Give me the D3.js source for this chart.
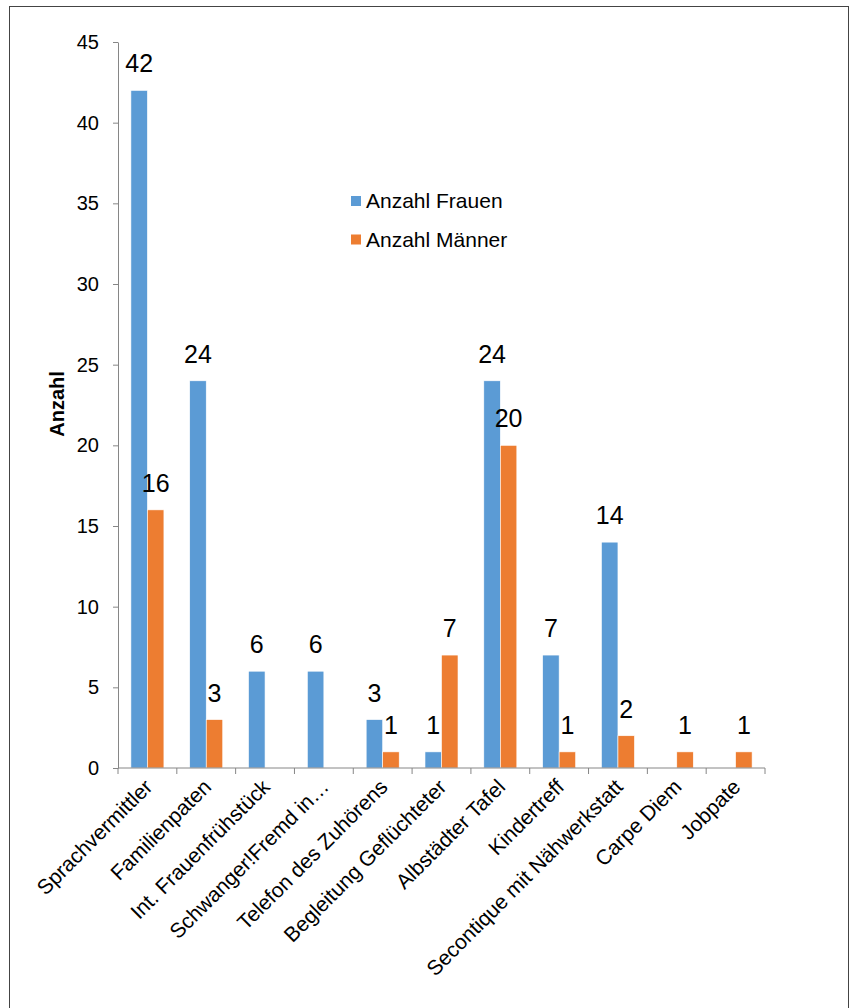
<!DOCTYPE html>
<html>
<head>
<meta charset="utf-8">
<script src="https://cdn.jsdelivr.net/npm/d3@7"></script>
<style>
  body { margin: 0; background: #fff; }
  text { font-family: "Liberation Sans", Arial, sans-serif; fill: #000; }
</style>
</head>
<body>
<div id="chart"></div>
<script>
var categories = ['Sprachvermittler', 'Familienpaten', 'Int. Frauenfrühstück', 'Schwanger!Fremd in…',
  'Telefon des Zuhörens', 'Begleitung Geflüchteter', 'Albstädter Tafel', 'Kindertreff',
  'Secontique mit Nähwerkstatt', 'Carpe Diem', 'Jobpate'];
var frauen = [42, 24, 6, 6, 3, 1, 24, 7, 14, 0, 0];
var maenner = [16, 3, 0, 0, 1, 7, 20, 1, 2, 1, 1];
var seriesNames = ['Anzahl Frauen', 'Anzahl Männer'];
var colors = ['#5B9BD5', '#ED7D31'];
var yTicks = [0, 5, 10, 15, 20, 25, 30, 35, 40, 45];

var width = 850, height = 1008;
var plot = { left: 118, right: 765, top: 42, bottom: 768 };

var svg = d3.select('#chart')
  .append('svg')
    .attr('width', width)
    .attr('height', height);

// frame
svg.append('rect')
  .attr('x', 9.5).attr('y', 6.5)
  .attr('width', 839).attr('height', 1020)
  .attr('fill', 'none')
  .attr('stroke', '#444')
  .attr('stroke-width', 1);

var x0 = d3.scaleBand()
  .domain(categories)
  .range([plot.left, plot.right]);

var x1 = d3.scaleBand()
  .domain(seriesNames)
  .range([12.9, x0.bandwidth() - 12.9]);

var y = d3.scaleLinear()
  .domain([0, 45])
  .range([plot.bottom, plot.top]);

var rows = categories.map(function(c, i) {
  return { cat: c, values: [
    { s: seriesNames[0], v: frauen[i], c: colors[0] },
    { s: seriesNames[1], v: maenner[i], c: colors[1] }
  ]};
});

// bars
var group = svg.selectAll('g.cat')
  .data(rows)
  .enter().append('g')
    .attr('class', 'cat')
    .attr('transform', (d) => 'translate(' + x0(d.cat) + ',0)');

group.selectAll('rect')
  .data((d) => d.values.filter((e) => e.v > 0))
  .enter().append('rect')
    .attr('x', (d) => x1(d.s))
    .attr('y', (d) => y(d.v))
    .attr('width', x1.bandwidth())
    .attr('height', (d) => y(0) - y(d.v))
    .attr('fill', (d) => d.c)
    .attr('stroke', '#fff')
    .attr('stroke-width', 0.6);

group.selectAll('text.val')
  .data((d) => d.values.filter((e) => e.v > 0))
  .enter().append('text')
    .attr('class', 'val')
    .attr('x', (d) => x1(d.s) + x1.bandwidth() / 2)
    .attr('y', (d) => y(d.v) - 18)
    .attr('text-anchor', 'middle')
    .attr('font-size', '25px')
    .text((d) => d.v);

// y axis
var yAxis = svg.append('g')
  .attr('transform', 'translate(' + plot.left + ',0)')
  .call(d3.axisLeft(y).tickValues(yTicks).tickSize(5).tickPadding(14).tickSizeOuter(0));
yAxis.select('.domain').attr('stroke', '#868686');
yAxis.selectAll('.tick line').attr('stroke', '#868686');
yAxis.selectAll('.tick text')
  .attr('font-size', '20px')
  .attr('font-family', '"Liberation Sans", Arial, sans-serif')
  .attr('fill', '#000');

// x axis
var xAxis = svg.append('g')
  .attr('transform', 'translate(0,' + plot.bottom + ')');
xAxis.append('line')
  .attr('x1', plot.left).attr('x2', plot.right)
  .attr('stroke', '#868686');
xAxis.selectAll('line.tick')
  .data(categories.concat(['end']))
  .enter().append('line')
    .attr('class', 'tick')
    .attr('x1', (d, i) => i < categories.length ? x0(d) : plot.right)
    .attr('x2', (d, i) => i < categories.length ? x0(d) : plot.right)
    .attr('y1', 0).attr('y2', 6)
    .attr('stroke', '#868686');
xAxis.selectAll('text.cat')
  .data(categories)
  .enter().append('text')
    .attr('class', 'cat')
    .attr('transform', (d) => 'translate(' + (x0(d) + x0.bandwidth() / 2 + 1) + ',15) rotate(-45)')
    .attr('text-anchor', 'end')
    .attr('dy', '0.35em')
    .attr('font-size', '21px')
    .text((d) => d);

// y axis title
svg.append('text')
  .attr('transform', 'translate(64,404) rotate(-90)')
  .attr('text-anchor', 'middle')
  .attr('font-size', '20px')
  .attr('font-weight', 'bold')
  .text('Anzahl');

// legend
var legend = svg.selectAll('g.legend')
  .data(seriesNames)
  .enter().append('g')
    .attr('class', 'legend')
    .attr('transform', (d, i) => 'translate(351,' + (196 + i * 38.5) + ')');
legend.append('rect')
  .attr('width', 10).attr('height', 10)
  .attr('fill', (d, i) => colors[i]);
legend.append('text')
  .attr('x', 15).attr('y', 12)
  .attr('font-size', '21px')
  .text((d) => d);
</script>
</body>
</html>
